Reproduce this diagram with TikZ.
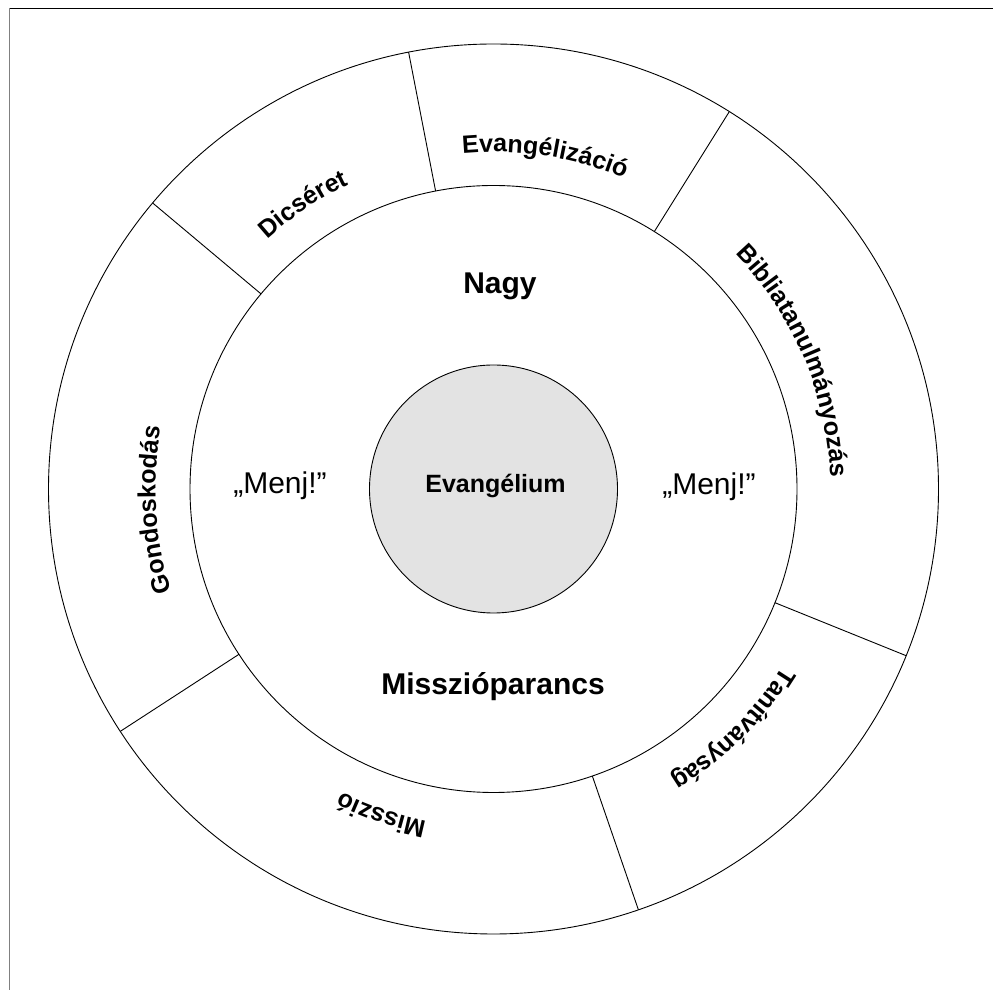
\documentclass[tikz,border=0pt]{standalone}
\usepackage{fontspec}
\setmainfont{Liberation Sans}
\usetikzlibrary{decorations.text}
\definecolor{cfill}{RGB}{227,227,227}
\begin{document}
\begin{tikzpicture}[x=1pt,y=1pt,
  disc/.style={circle,draw,line width=0.9pt,inner sep=0pt,outer sep=0pt},
  divider/.style={line width=0.9pt},
  bigbold/.style={font=\fontsize{30}{36}\selectfont\bfseries, inner sep=0pt, anchor=base},
  menj/.style={font=\fontsize{30}{36}\selectfont, inner sep=0pt, anchor=base},
  corelabel/.style={font=\fontsize{25}{30}\selectfont\bfseries, inner sep=0pt, anchor=base},
  arclabel/.style={decorate, decoration={text along path, text align=center,
      text={|\fontsize{25}{30}\selectfont\bfseries|#1}}}
]
\useasboundingbox (0,0) rectangle (993,990);
% frame
\coordinate (ftl) at (9,982);
\coordinate (ftr) at (993,982);
\coordinate (fbl) at (9,0);
\draw[line width=0.9pt] (ftl) -- (ftr);
\draw[line width=0.9pt, black!50] (ftl) -- (fbl);
% circles
\coordinate (c) at (493.5,501);
\node[disc, minimum size=890pt] (outer) at (c) {};
\node[disc, minimum size=607pt] (ring) at (c) {};
\node[disc, minimum size=248pt, fill=cfill] (core) at (c) {};
% dividers
\foreach \a in {140,101.4,58.9,-22,-71.6,213.5}
  \draw[divider] (ring.\a) -- (outer.\a);
% inner texts
\node[corelabel] (ev) at (495.5,497.7) {Evangélium};
\node[bigbold] (nagy) at (500,696) {Nagy};
\node[bigbold] (mp) at (493,295.7) {Misszióparancs};
\node[menj] (menjl) at (280,496.7) {„Menj!”};
\node[menj] (menjr) at (709,495) {„Menj!”};
% ring labels along arcs (clockwise, tops outward)
\begin{scope}[shift={(c)}]
  \path[arclabel=Evangélizáció] (116.2:337) arc[start angle=116.2, end angle=46.2, radius=337];
  \path[arclabel=Dicséret] (158.8:337) arc[start angle=158.8, end angle=88.8, radius=337];
  \path[arclabel=Bibliatanulmányozás] (58.1:337) arc[start angle=58.1, end angle=-11.9, radius=337];
  \path[arclabel=Tanítványság] (350:339) arc[start angle=350, end angle=280, radius=339];
  \path[arclabel=Misszió] (286:339) arc[start angle=286, end angle=216, radius=339];
  \path[arclabel=Gondoskodás] (218.5:338) arc[start angle=218.5, end angle=148.5, radius=338];
\end{scope}
\end{tikzpicture}
\end{document}
